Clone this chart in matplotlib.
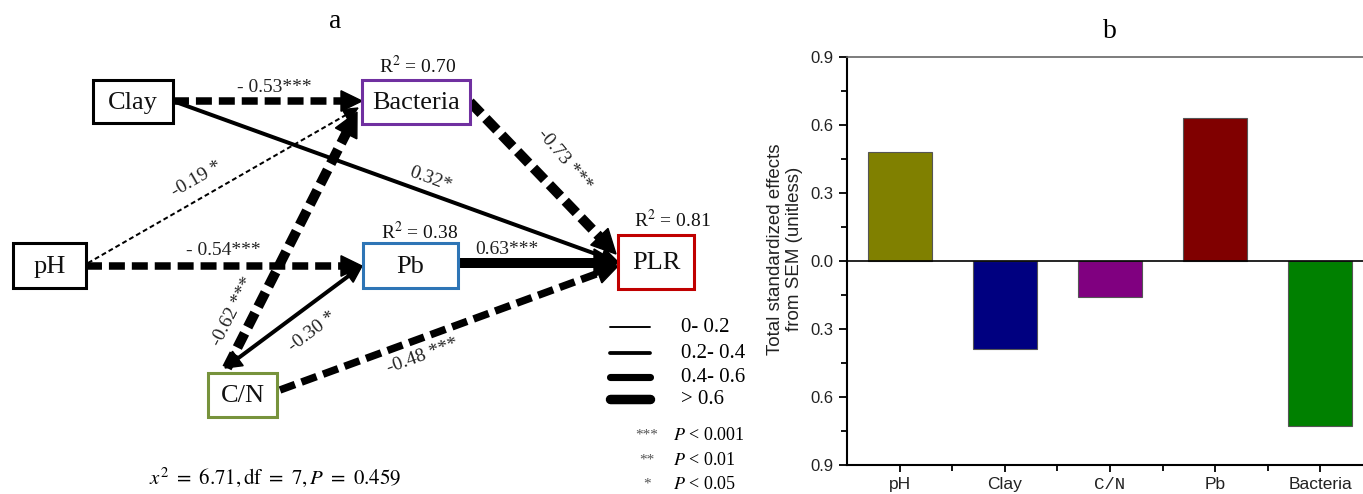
import numpy as np
import matplotlib

matplotlib.use("Agg")
import matplotlib.pyplot as plt  # noqa: E402
from matplotlib.patches import Rectangle, Polygon  # noqa: E402

plt.rcParams.update({"mathtext.fontset": "stix", "lines.scale_dashes": False})
SERIF = "Liberation Serif"
SANS = "Liberation Sans"

# ---- panel a: SEM path coefficients ----
sources = ["Clay", "Clay", "pH", "pH", "C/N", "C/N", "C/N", "Bacteria", "Pb"]
targets = ["Bacteria", "PLR", "Bacteria", "Pb", "Bacteria", "Pb", "PLR", "PLR", "PLR"]
coefs = [-0.53, 0.32, -0.19, -0.54, -0.62, -0.30, -0.48, -0.73, 0.63]
edge_labels = ["- 0.53***", "0.32*", "-0.19 *", "- 0.54***", "-0.62 ***",
               "-0.30 *", "-0.48 ***", "-0.73 ***", "0.63***"]
r2_nodes = ["Bacteria", "Pb", "PLR"]
r2_values = [0.70, 0.38, 0.81]
width_classes = ["0- 0.2", "0.2- 0.4", "0.4- 0.6", "> 0.6"]
sig_stars = ["***", "**", "*"]
sig_levels = ["0.001", "0.01", "0.05"]
chi2, dof, p_fit = 6.71, 7, 0.459

# ---- panel b: total standardized effects ----
predictors = ["pH", "Clay", "C/N", "Pb", "Bacteria"]
effects = [0.48, -0.39, -0.16, 0.63, -0.73]
bar_colors = ["#808000", "#000080", "#800080", "#800000", "#008000"]

# layout of the diagram in pixel units (x right, y down)
boxes = {
    "Clay": ((93, 80, 173, 123), "black"),
    "Bacteria": ((362, 80, 470, 124), "#7030A0"),
    "pH": ((13, 243, 86, 288), "black"),
    "Pb": ((363, 243, 458, 288), "#2E75B6"),
    "PLR": ((618, 235, 694, 289), "#C00000"),
    "C/N": ((208, 373, 277, 417), "#77933C"),
}
edge_ends = [((173, 101), (362, 101)), ((173, 101), (618, 262)),
             ((88, 263), (358, 108)), ((86, 266), (362, 266)),
             ((227, 368), (357, 112)), ((225, 368), (362, 266)),
             ((280, 390), (618, 266)), ((470, 102), (616, 254)),
             ((458, 263), (618, 263))]
dashed = [True, False, True, True, True, False, True, True, False]
both_heads = [False, False, False, False, False, True, False, False, False]
label_pos = [(274, 87, 0), (430, 179, -20), (197, 179, 30), (223, 250, 0),
             (233, 312, 63), (312, 332, 37), (423, 356, 20), (564, 160, -50),
             (507, 249, 0)]
r2_pos = {"Bacteria": (418, 66), "Pb": (420, 232), "PLR": (672, 220)}

bins = [0.2, 0.4, 0.6]
lw_px = [2.0, 4.0, 7.5, 10.0]
PX = 0.72  # points per pixel at 100 dpi


def arrow_head(ax, tip, back, length, width):
    tip = np.array(tip, float)
    u = tip - np.array(back, float)
    u /= np.hypot(*u)
    n = np.array([-u[1], u[0]])
    base = tip - length * u
    ax.add_patch(Polygon([tip, base + n * width / 2, base - n * width / 2],
                         closed=True, color="black", zorder=4))
    return base + 0.3 * length * u


fig = plt.figure(figsize=(13.63, 4.94), dpi=100)
ax = fig.add_axes([0, 0, 1, 1])
ax.set_xlim(0, 1363)
ax.set_ylim(494, 0)
ax.axis("off")

for i, c in enumerate(coefs):
    k = int(np.digitize(abs(c), bins))
    lw = lw_px[k]
    (x0, y0), (x1, y1) = edge_ends[i]
    hl, hw = (12 + 1.2 * lw, 10 + 1.4 * lw)
    if k == 3 and not dashed[i]:
        hl, hw = 24, 28
    e = arrow_head(ax, (x1, y1), (x0, y0), hl, hw)
    s = (x0, y0)
    if both_heads[i]:
        s = arrow_head(ax, (x0, y0), (x1, y1), 16, 18)
    kw = dict(color="black", lw=lw * PX, solid_capstyle="butt", zorder=3)
    if dashed[i]:
        dash = (3.5, 2.2) if k == 0 else (11.5, 5.0)
        kw.update(dashes=dash, dash_capstyle="butt")
    ax.plot([s[0], e[0]], [s[1], e[1]], **kw)
    lx, ly, rot = label_pos[i]
    ax.text(lx, ly, edge_labels[i], ha="center", va="center", rotation=rot,
            fontsize=14, family=SERIF, color="#222222", zorder=5)

for name, ((bx0, by0, bx1, by1), col) in boxes.items():
    ax.add_patch(Rectangle((bx0, by0), bx1 - bx0, by1 - by0, facecolor="white",
                           edgecolor=col, lw=2.2, zorder=6))
    ax.text((bx0 + bx1) / 2, (by0 + by1) / 2 + 1, name, ha="center", va="center",
            fontsize=19, family=SERIF, color="#111111", zorder=7)

for name, r2 in zip(r2_nodes, r2_values):
    x, y = r2_pos[name]
    ax.text(x, y, "R$^{2}$ = " + f"{r2:.2f}", ha="center", va="center",
            fontsize=14, family=SERIF, color="#111111")

for k, lab in enumerate(width_classes):
    y = [327, 353, 377, 399][k]
    ax.plot([610, 650], [y, y], color="black", lw=lw_px[k] * PX * 0.95,
            solid_capstyle="round")
    ax.text(681, y, lab, ha="left", va="center", fontsize=15, family=SERIF)
for k, (st, lev) in enumerate(zip(sig_stars, sig_levels)):
    y = [435, 460, 484][k]
    ax.text(647, y, st, ha="center", va="center", fontsize=11, family=SERIF,
            color="#555555")
    ax.text(673, y, "$P$ < " + lev, ha="left", va="center", fontsize=13,
            family=SERIF)

ax.text(275, 477,
        rf"$x^2\ =\ {chi2:.2f},\mathrm{{df}}\ =\ {dof},P\ =\ {p_fit:.3f}$",
        ha="center", va="center", fontsize=15, family=SERIF)
ax.text(335, 22, "a", ha="center", va="center", fontsize=20, family=SERIF)
ax.text(1110, 32, "b", ha="center", va="center", fontsize=20, family=SERIF)

# ---- panel b ----
bx = fig.add_axes([847 / 1363, 29 / 494, 526 / 1363, 408 / 494])
pos = np.arange(1, len(predictors) + 1)
bx.bar(pos, effects, width=0.61, color=bar_colors, edgecolor="#555555", lw=0.8,
       zorder=2)
bx.axhline(0, color="black", lw=1.2, zorder=3)
bx.set_xlim(0.5, 5.5)
bx.set_ylim(-0.9, 0.9)
yt = np.arange(-0.9, 0.91, 0.3)
bx.set_yticks(yt)
bx.set_yticklabels([f"{abs(v):.1f}" for v in yt], fontsize=12, family=SANS,
                   color="#222222")
bx.set_yticks(np.arange(-0.75, 0.8, 0.3), minor=True)
bx.set_xticks(pos)
bx.set_xticklabels(predictors, fontsize=12.5, family=SANS, color="#222222")
bx.get_xticklabels()[2].set_family("Liberation Mono")
bx.set_xticks(pos[:-1] + 0.5, minor=True)
bx.tick_params(axis="y", which="major", direction="out", length=6, width=1.3)
bx.tick_params(axis="y", which="minor", direction="out", length=4, width=1.3)
bx.tick_params(axis="x", which="major", direction="out", length=5, width=1.3)
bx.tick_params(axis="x", which="minor", direction="out", length=4, width=1.3)
bx.spines["left"].set_linewidth(1.5)
bx.spines["bottom"].set_linewidth(1.5)
bx.spines["top"].set_color("#666666")
bx.spines["top"].set_linewidth(1.2)
bx.spines["right"].set_visible(False)
fig.text(785 / 1363, 1 - 249 / 494, "Total standardized effects\nfrom SEM (unitless)",
         rotation=90, ha="center", va="center", fontsize=13.5, family=SANS,
         color="#222222", linespacing=1.2)

fig.savefig("out.png", dpi=100)
